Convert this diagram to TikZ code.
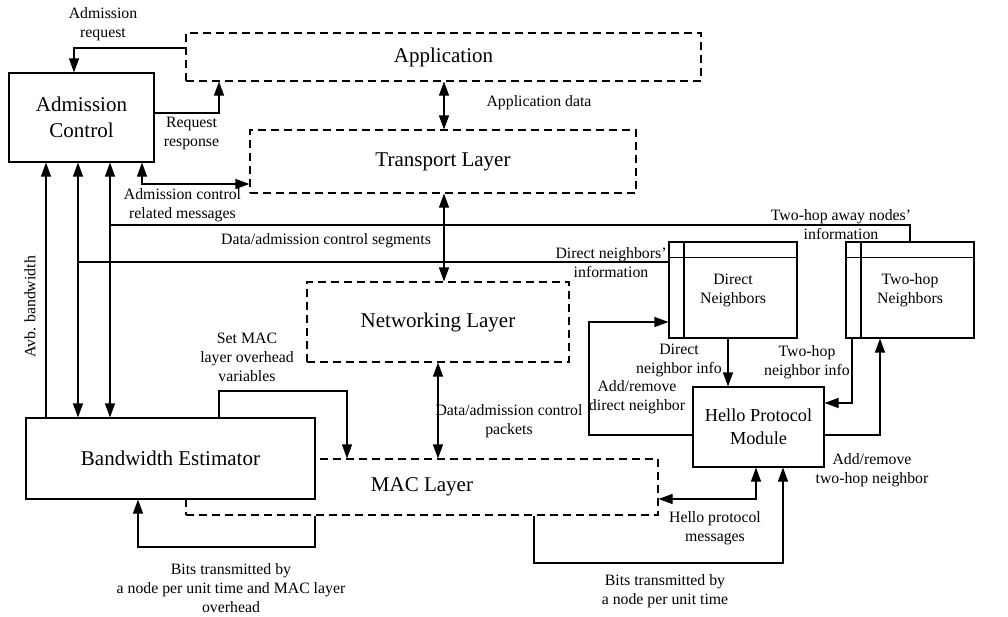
\documentclass[tikz,border=0pt]{standalone}
\usepackage{fontspec}
\setmainfont{Liberation Serif}
\usetikzlibrary{arrows.meta,calc}
\begin{document}
\begin{tikzpicture}[x=1pt,y=-1pt, line width=1.1pt,
 box/.style={draw, fill=white, inner sep=0pt, align=center, font=\fontsize{21}{26}\selectfont},
 layer/.style={draw, inner sep=0pt, align=center, dash pattern=on 8pt off 5pt, font=\fontsize{21}{26}\selectfont},
 tbl/.style={draw, fill=white, inner sep=0pt, align=center, minimum width=128pt, minimum height=96pt, font=\fontsize{15.8}{19}\selectfont},
 lbl/.style={inner sep=0pt, align=center, font=\fontsize{15.8}{19}\selectfont},
 hd/.style={Triangle[length=14pt,width=10pt]},
 arr/.style={-{Triangle[length=14pt,width=10pt]}},
 darr/.style={{Triangle[length=14pt,width=10pt]}-{Triangle[length=14pt,width=10pt]}},
 ]
\useasboundingbox (0,0) rectangle (1008,616);

% layers (dashed)
\node[layer, minimum width=515pt, minimum height=48pt] (App) at (443.5,57) {Application};
\node[layer, minimum width=386pt, minimum height=63pt] (TL) at (443,161.5) {Transport Layer};
\node[layer, minimum width=262pt, minimum height=80pt] (NL) at (438,322) {Networking Layer};
\node[layer, minimum width=472pt, minimum height=56pt] (MAC) at (422,487) {MAC Layer};

% solid boxes
\node[box, minimum width=145pt, minimum height=89pt] (AC) at (81.5,117.5) {Admission\\Control};
\node[box, minimum width=289pt, minimum height=81pt] (BE) at (170.5,458.5) {Bandwidth Estimator};
\node[box, minimum width=131pt, minimum height=80pt, font=\fontsize{18.3}{23}\selectfont] (HPM) at (758.5,427) {Hello Protocol\\Module};

% tables
\node[tbl] (DN) at (733,290) {Direct\\Neighbors};
\node[tbl] (TH) at (910,290) {Two-hop\\Neighbors};
\foreach \t in {DN,TH}{
  \draw ($(\t.north west)+(0,16)$) -- ($(\t.north east)+(0,16)$);
  \draw ($(\t.north west)+(15.5,0)$) -- ($(\t.south west)+(15.5,0)$);
}

% connectors
\draw[arr] (App.west |- 0,48) -| (74,0 |- AC.north);
\draw[arr] (AC.east |- 0,113) -| (219,0 |- App.south);
\draw[darr] (444,0 |- App.south) -- (444,0 |- TL.north);
\draw[darr] (142,0 |- AC.south) |- (TL.west |- 0,184);
\draw[arr] (46,0 |- BE.north) -- (46,0 |- AC.south);
\draw[darr] (78,0 |- AC.south) -- (78,0 |- BE.north);
\draw[darr] (110,0 |- AC.south) -- (110,0 |- BE.north);
\coordinate (j1) at (110,225);
\coordinate (j2) at (78,262);
\draw (j1) -| (910,0 |- TH.north);
\draw (j2) -- (DN.west |- j2);
\draw[darr] (444,0 |- TL.south) -- (444,0 |- NL.north);
\draw[darr] (438,0 |- NL.south) -- (438,0 |- MAC.north);
\draw[arr] (219,0 |- BE.north) -- (219,391) -| (347,0 |- MAC.north);
\draw[arr] (315,0 |- MAC.south) -- (315,547) -| (138,0 |- BE.south);
\draw[arr] (728,0 |- DN.south) -- (728,0 |- HPM.north);
\draw[arr] (852,0 |- TH.south) |- (HPM.east |- 0,403);
\draw[arr] (HPM.east |- 0,435) -| (880,0 |- TH.south);
\draw[arr] (HPM.west |- 0,435) -- (589,435) |- (DN.west |- 0,322);
\draw[darr] (756,0 |- HPM.south) |- (MAC.east |- 0,499);
\draw[arr] (534,0 |- MAC.south) -- (534,563) -| (783,0 |- HPM.south);

% labels
\node[lbl] (l1) at (103,24) {Admission\\request};
\node[lbl] (l2) at (191.5,134) {Request\\response};
\node[lbl] (l3) at (539,103) {Application data};
\node[lbl] (l4) at (182.5,205) {Admission control\\related messages};
\node[lbl] (l5) at (326,241) {Data/admission control segments};
\node[lbl] (l6) at (841,225) {Two-hop away nodes'\\information};
\node[lbl] (l7) at (611,263) {Direct neighbors'\\information};
\node[lbl, rotate=90] (l8) at (30,307) {Avb. bandwidth};
\node[lbl] (l9) at (247,357) {Set MAC\\layer overhead\\variables};
\node[lbl] (l10) at (231,588) {Bits transmitted by\\a node per unit time and MAC layer\\overhead};
\node[lbl] (l11) at (509,421.5) {Data/admission control\\packets};
\node[lbl] (l12) at (679,360.5) {Direct\\neighbor info};
\node[lbl] (l13) at (807,362.5) {Two-hop\\neighbor info};
\node[lbl] (l14) at (637,397.5) {Add/remove\\direct neighbor};
\node[lbl] (l15) at (872,470.5) {Add/remove\\two-hop neighbor};
\node[lbl] (l16) at (715,528.5) {Hello protocol\\messages};
\node[lbl] (l17) at (665,591.5) {Bits transmitted by\\a node per unit time};
\end{tikzpicture}
\end{document}
